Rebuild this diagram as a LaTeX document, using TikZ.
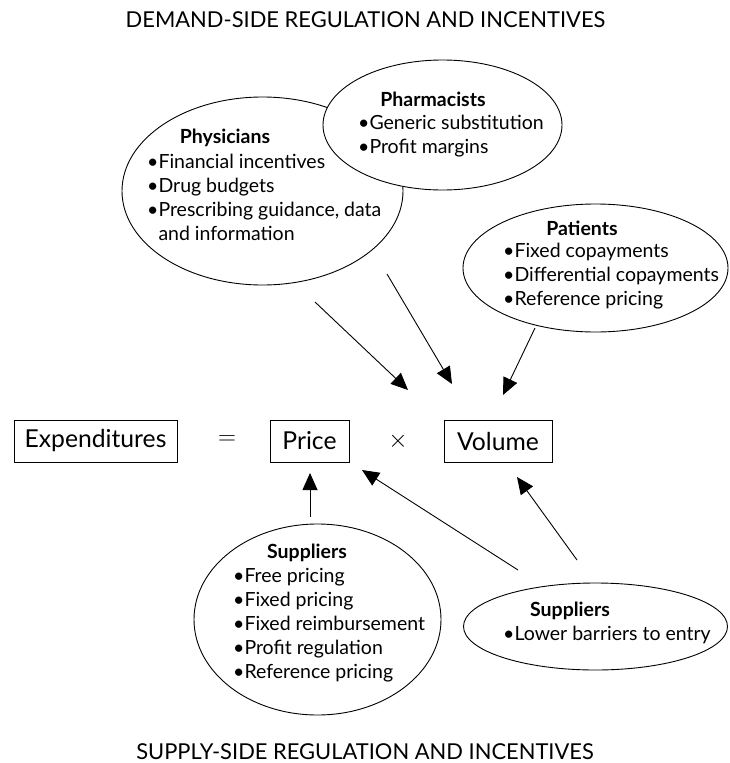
\documentclass[tikz,border=0pt]{standalone}
\usepackage{fontspec}
\setmainfont{Lato}
\usetikzlibrary{shapes.geometric,arrows.meta}

\begin{document}
\begin{tikzpicture}[
  x=1pt, y=-1pt,
  every node/.style={inner sep=1pt},
  bubble/.style={ellipse, draw, fill=white, line width=0.9pt, inner sep=0pt},
  head/.style={anchor=mid, inner sep=0pt, font=\fontsize{19.5}{22}\selectfont\bfseries},
  item/.style={anchor=mid west, inner sep=0pt, font=\fontsize{19.5}{22}\selectfont},
  term/.style={draw, line width=0.9pt, minimum height=42pt, inner sep=0pt, font=\fontsize{24.7}{28}\selectfont},
  sign/.style={inner sep=0pt, font=\fontsize{23}{26}\selectfont},
  title/.style={anchor=base, inner sep=0pt, font=\fontsize{21.9}{25}\selectfont},
  arrow/.style={draw, line width=0.9pt, -{Triangle[length=17pt,width=15pt]}}]

  \useasboundingbox (0,0) rectangle (729,763);

  \node[title] (demand) at (365.5,27)  {DEMAND-SIDE REGULATION AND INCENTIVES};
  \node[title] (supply) at (365,759)   {SUPPLY-SIDE REGULATION AND INCENTIVES};

  % demand side
  \node[bubble, minimum width=281pt, minimum height=188pt] (phys)  at (262.5,191) {};
  \node[bubble, minimum width=239pt, minimum height=130pt] (pharm) at (442.5,125) {};
  \node[bubble, minimum width=265pt, minimum height=128pt] (pat)   at (595.5,268) {};

  \node[head] (physH) at (225,141) {Physicians};
  \foreach \txt [count=\i] in {•Financial incentives, •Drug budgets,
      {•Prescribing guidance, data}, \phantom{•}and information}
    \node[item] (phys\i) at (147,{142+24*\i}) {\txt};

  \node[head] (pharmH) at (433,104) {Pharmacists};
  \foreach \txt [count=\i] in {•Generic substitution, •Profit margins}
    \node[item] (pharm\i) at (358,{103+24*\i}) {\txt};

  \node[head] (patH) at (582,233) {Patients};
  \foreach \txt [count=\i] in {•Fixed copayments, •Differential copayments,
      •Reference pricing}
    \node[item] (pat\i) at (503,{231+24*\i}) {\txt};

  % the identity
  \node[term, minimum width=163pt] (exp)   at (95.5,441)  {Expenditures};
  \node[sign]                      (eq)    at (227,440)   {$=$};
  \node[term, minimum width=79pt]  (price) at (309.5,441) {Price};
  \node[sign]                      (times) at (398,441)   {$\times$};
  \node[term, minimum width=108pt] (vol)   at (498,441)   {Volume};

  % supply side
  \node[bubble, minimum width=247pt, minimum height=191pt] (supA) at (317.5,619.5) {};
  \node[bubble, minimum width=264pt, minimum height=87pt]  (supB) at (595.5,626.5) {};

  \node[head] (supAH) at (307,556) {Suppliers};
  \foreach \txt [count=\i] in {•Free pricing, •Fixed pricing, •Fixed reimbursement,
      •Profit regulation, •Reference pricing}
    \node[item] (supA\i) at (233,{556+24*\i}) {\txt};

  \node[head] (supBH) at (570,614) {Suppliers};
  \node[item] (supB1) at (503,638) {•Lower barriers to entry};

  % arrows
  \coordinate (physTail)  at (315,302);
  \coordinate (physTip)   at (408,390);
  \coordinate (pharmTail) at (387,274);
  \coordinate (pharmTip)  at (452,384);
  \coordinate (patTail)   at (535,328);
  \coordinate (patTip)    at (503,395);
  \coordinate (supATail)  at (310,517);
  \coordinate (supATip)   at (310,473);
  \coordinate (supBTail)  at (518,570);
  \coordinate (supBTip)   at (362,470);
  \coordinate (supCTail)  at (577,560);
  \coordinate (supCTip)   at (517,477);

  \draw[arrow] (physTail)  -- (physTip);
  \draw[arrow] (pharmTail) -- (pharmTip);
  \draw[arrow] (patTail)   -- (patTip);
  \draw[arrow] (supATail)  -- (supATip);
  \draw[arrow] (supBTail)  -- (supBTip);
  \draw[arrow] (supCTail)  -- (supCTip);

\end{tikzpicture}
\end{document}
